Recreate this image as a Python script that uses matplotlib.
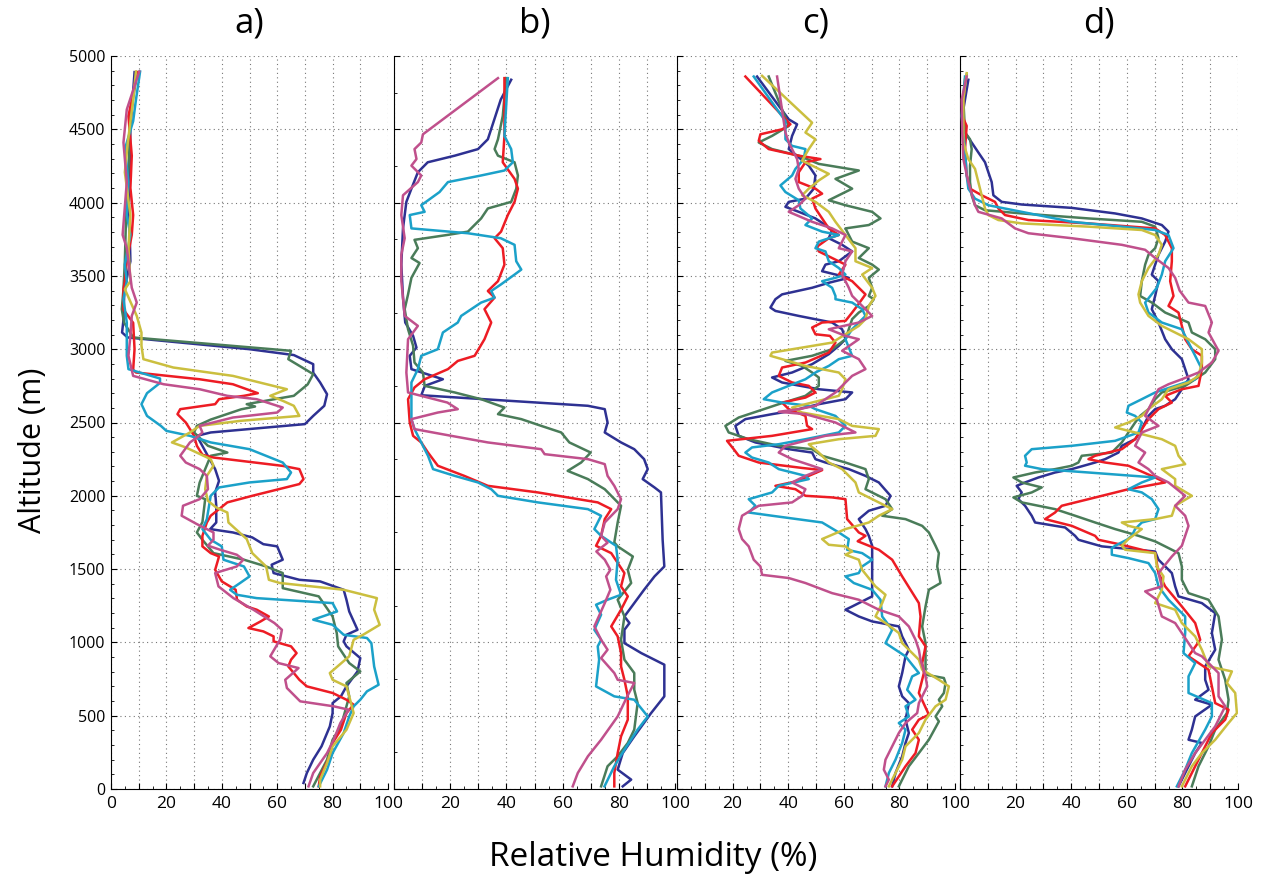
import numpy as np
import matplotlib.pyplot as plt
from matplotlib.ticker import MultipleLocator, FuncFormatter

plt.rcParams['font.family'] = ['Open Sans', 'DejaVu Sans']

# profiles as (altitude m, relative humidity %) pairs, top to bottom
# ---- a) ----
a_navy = [(4890, 8.5), (4500, 7), (4000, 6.5), (3600, 7), (3400, 4.8), (3200, 4.5), (3114, 4), (3080, 6),
          (3000, 50), (2960, 66), (2898, 73), (2840, 73), (2773, 75.5), (2693, 78), (2614, 77), (2545, 73),
          (2489, 70), (2432, 36), (2409, 31), (2340, 33), (2182, 37.6), (2102, 39), (2023, 37.6), (1932, 38),
          (1818, 38), (1773, 35.8), (1750, 44), (1716, 51), (1670, 55), (1655, 60), (1564, 62), (1530, 58),
          (1473, 58.7), (1427, 68), (1416, 75.5), (1359, 84), (1291, 85), (1211, 86), (1086, 89), (1052, 85),
          (1007, 84), (973, 85), (893, 90), (802, 89), (700, 85), (632, 83), (586, 80), (518, 80), (427, 79),
          (291, 76), (200, 73), (109, 70.7), (41, 69.5)]
a_green = [(4890, 9.5), (4600, 7), (4300, 6.5), (3950, 5.5), (3600, 5), (3409, 4.5), (3273, 3.9), (3182, 4.7),
           (3080, 8), (2989, 65), (2932, 64), (2830, 73), (2760, 71), (2682, 66), (2659, 59), (2625, 49),
           (2609, 52), (2590, 47), (2520, 36), (2477, 31), (2432, 30), (2341, 35), (2295, 42), (2273, 36),
           (2182, 34), (2090, 32), (2000, 31), (1977, 34), (1820, 33), (1750, 31), (1700, 33), (1609, 37),
           (1564, 48), (1518, 56), (1473, 62), (1370, 62), (1314, 75), (1177, 80), (1064, 81.5), (973, 82),
           (859, 86), (802, 90), (723, 85), (632, 86), (564, 85), (427, 83), (336, 80), (200, 78), (18, 73)]
a_red = [(4890, 9.5), (4590, 6.3), (4320, 7.5), (4100, 7), (3915, 8), (3780, 7.5), (3600, 5.7), (3464, 5),
         (3409, 4.5), (3270, 4.5), (3180, 8), (3000, 8.5), (2860, 8), (2841, 9), (2795, 32), (2761, 44),
         (2727, 49), (2700, 53), (2682, 48), (2659, 39), (2625, 37.6), (2591, 25), (2557, 24), (2500, 27),
         (2455, 28.5), (2409, 30), (2341, 31), (2280, 33), (2261, 37), (2204, 62), (2182, 68), (2114, 69.5),
         (2080, 68), (2000, 51), (1955, 42), (1909, 39), (1864, 36), (1818, 34.6), (1727, 33), (1655, 33),
         (1609, 36), (1586, 39), (1495, 37.6), (1416, 40), (1359, 45), (1291, 45.5), (1245, 49), (1223, 52.6),
         (1177, 57), (1143, 54), (1098, 49.6), (1075, 55), (1041, 58.7), (1007, 58.7), (973, 65), (927, 67),
         (882, 65), (836, 64), (791, 66), (745, 68), (700, 70.7), (655, 80), (609, 85), (575, 87.6), (518, 85),
         (404, 83), (314, 80), (223, 79), (86, 75.5), (18, 75)]
a_cyan = [(4894, 10.5), (4700, 9), (4556, 8), (4365, 5), (4140, 6.3), (3915, 5.7), (3780, 7), (3577, 5),
          (3464, 5.7), (3341, 4.5), (3182, 5.7), (2955, 5.7), (2864, 6.3), (2800, 17.7), (2770, 17.7),
          (2700, 13), (2625, 11), (2545, 13), (2477, 18), (2443, 20), (2409, 28.5), (2364, 36), (2318, 50),
          (2227, 62), (2159, 65), (2114, 63.5), (2091, 50), (2057, 39), (2000, 36), (1841, 34.6), (1773, 33),
          (1700, 36), (1655, 40), (1564, 40.6), (1518, 48), (1450, 50), (1405, 46.6), (1359, 43), (1325, 45.4),
          (1302, 52.6), (1268, 80), (1211, 81.6), (1155, 73), (1120, 80), (1052, 84), (1030, 92.4), (995, 94),
          (836, 95), (711, 96.6), (666, 92.4), (609, 90), (564, 87.6), (495, 86), (382, 84), (245, 80),
          (132, 78), (18, 75)]
a_yellow = [(4894, 9), (4700, 8), (4400, 6), (4207, 5), (3915, 7), (3690, 6.3), (3464, 7), (3409, 5),
            (3227, 9.3), (3114, 11), (3023, 11), (2932, 11.7), (2875, 22.5), (2818, 44), (2727, 63.5),
            (2682, 57.5), (2648, 62), (2614, 66), (2545, 68), (2511, 46.6), (2477, 32), (2432, 28.5),
            (2364, 22), (2330, 27), (2250, 36), (2205, 37), (2136, 34.6), (2045, 34), (1966, 35), (1920, 38),
            (1886, 42), (1818, 42.4), (1705, 49), (1609, 51), (1518, 56), (1427, 57), (1405, 61), (1359, 84),
            (1302, 96), (1223, 95), (1120, 97), (1052, 91), (1018, 87.6), (905, 86), (791, 79), (745, 80),
            (700, 85), (632, 86), (518, 87.6), (404, 85), (291, 80), (177, 78), (64, 75.5), (18, 75.5)]
a_pink = [(4894, 10.2), (4635, 5.7), (4410, 4.5), (4140, 5.7), (3780, 4.2), (3690, 5.7), (3419, 7.5),
          (3318, 9.3), (3227, 7.5), (3091, 7), (2955, 6.3), (2818, 8), (2761, 19), (2727, 32), (2682, 42),
          (2659, 52.6), (2602, 62), (2568, 60), (2534, 44), (2477, 32), (2432, 33), (2398, 31), (2364, 28.5),
          (2273, 25), (2227, 27), (2182, 32), (2136, 34.6), (2045, 35), (1977, 32), (1932, 26), (1864, 25.5),
          (1807, 31), (1750, 37), (1700, 37), (1660, 35), (1632, 39.4), (1598, 45.4), (1564, 47.8),
          (1518, 45.4), (1473, 37.6), (1382, 38.8), (1302, 44.2), (1223, 51.4), (1132, 59), (1086, 61.7),
          (1018, 61), (905, 57.5), (859, 60.5), (825, 67.7), (745, 62.9), (689, 63.5), (598, 68.3), (564, 80.4),
          (541, 85.8), (450, 82.8), (336, 80.4), (245, 78), (109, 73), (18, 71.3)]

# ---- b) ----
b_navy = [(4838, 41.7), (4703, 38), (4432, 33.4), (4365, 29.9), (4320, 21.6), (4275, 12), (4207, 8.5),
          (4095, 6.2), (4005, 4.4), (3824, 3.2), (3577, 2.6), (3351, 3.2), (3182, 4), (3091, 6.8), (3011, 8),
          (2955, 5.6), (2864, 6.2), (2795, 17.4), (2750, 11), (2686, 9.7), (2614, 69), (2591, 75), (2500, 76),
          (2432, 75), (2364, 80.8), (2318, 85.5), (2250, 89), (2182, 90.3), (2114, 88.5), (2057, 92.7),
          (2023, 95), (1700, 95.6), (1518, 96.2), (1450, 92.7), (1359, 89), (1268, 85.5), (1177, 82),
          (1132, 83.8), (1086, 82), (995, 82), (927, 88), (848, 96.2), (632, 96.2), (518, 91.5), (359, 85.5),
          (245, 81.4), (132, 79.6), (64, 84.4), (18, 81.4)]
b_green = [(4849, 39.9), (4590, 38.7), (4432, 37), (4365, 35.8), (4320, 37), (4275, 42.9), (4185, 44.1),
           (4095, 43.5), (4005, 41.7), (3960, 33.4), (3892, 31), (3802, 26.3), (3780, 19.2), (3746, 7.3),
           (3689, 8.5), (3622, 6.2), (3588, 9.1), (3487, 6.2), (3374, 5), (3273, 3.8), (3136, 5), (3023, 6.8),
           (2909, 7.3), (2841, 10.3), (2750, 10.9), (2705, 21.6), (2659, 31), (2602, 39.3), (2557, 37),
           (2523, 45.3), (2477, 52.4), (2432, 59.5), (2364, 62.4), (2295, 70), (2227, 66.6), (2170, 61.8),
           (2114, 69), (2045, 75), (1932, 80.8), (1818, 79.6), (1682, 78.4), (1655, 79.6), (1586, 85),
           (1495, 83.2), (1405, 84.4), (1291, 79.6), (1177, 82), (1018, 80.8), (882, 82), (791, 85.5),
           (677, 85.5), (586, 86.7), (405, 85.5), (314, 83.2), (223, 79.6), (155, 76), (18, 73.7)]
b_red = [(4849, 39.3), (4455, 39.3), (4275, 38.7), (4162, 42.9), (4095, 44.1), (4005, 42.9), (3915, 40.5),
         (3802, 38.1), (3757, 35.8), (3689, 38.7), (3577, 39.3), (3464, 37), (3397, 33.4), (3352, 35.8),
         (3273, 32.2), (3182, 34.6), (3068, 32.2), (2955, 28.7), (2920, 22.7), (2864, 19.2), (2795, 10.9),
         (2739, 7.3), (2659, 5), (2500, 5.6), (2409, 6.8), (2364, 9.7), (2295, 12.1), (2205, 15.6), (2136, 25),
         (2068, 33.4), (2023, 51.2), (1955, 72.5), (1909, 77.3), (1841, 75), (1727, 73.7), (1659, 71.9),
         (1609, 77.3), (1473, 82), (1382, 80.8), (1314, 83.2), (1223, 80.8), (1109, 77.3), (1041, 79.6),
         (927, 80.8), (836, 80.8), (745, 82), (632, 83.2), (473, 83.2), (359, 80.8), (245, 79.6), (109, 78.4),
         (18, 78.4)]
b_cyan = [(4849, 40.5), (4455, 39.3), (4365, 41.7), (4275, 42.3), (4219, 39.3), (4185, 31), (4140, 19.2),
          (4072, 16.2), (3982, 9.7), (3937, 10.9), (3915, 5.6), (3824, 6.2), (3791, 26.3), (3757, 38),
          (3712, 42.9), (3600, 43.5), (3543, 45.3), (3509, 42.9), (3441, 38), (3397, 34.6), (3352, 35.8),
          (3318, 31), (3227, 23.9), (3182, 22.7), (3114, 17.4), (3000, 15.6), (2955, 9.7), (2864, 8.5),
          (2773, 6.2), (2523, 6.2), (2455, 7.3), (2318, 10.9), (2273, 12.1), (2182, 13.9), (2136, 21.6),
          (2091, 29.9), (2045, 34.6), (2000, 37), (1955, 51.2), (1909, 69), (1864, 73.7), (1773, 71.3),
          (1727, 73.7), (1659, 79), (1564, 79.6), (1427, 79), (1325, 80.8), (1291, 76), (1257, 71.9),
          (1189, 73.7), (1086, 71.3), (1018, 73.7), (973, 72.5), (882, 73), (700, 71.9), (632, 78.4),
          (609, 85.5), (495, 90.3), (405, 86.7), (268, 82), (155, 78.4), (18, 74.9)]
b_pink = [(4849, 37), (4466, 10.3), (4410, 9.7), (4365, 7.3), (4297, 8), (4252, 6.2), (4185, 9.7), (4140, 8.5),
          (4050, 3.2), (3915, 2.6), (3757, 3.8), (3644, 2.6), (3464, 2.6), (3351, 3.2), (3227, 3.8),
          (3159, 8.5), (3068, 5), (2841, 4.4), (2705, 5), (2636, 19), (2591, 22.7), (2568, 15.6), (2523, 6.2),
          (2455, 7.3), (2409, 20.4), (2364, 33.4), (2318, 52.4), (2284, 53.6), (2250, 69), (2216, 75),
          (2136, 76), (2068, 78.4), (1977, 80.8), (1909, 79.6), (1818, 75), (1727, 73.7), (1680, 76),
          (1620, 72), (1564, 75), (1495, 77), (1450, 75.5), (1359, 77), (1268, 75), (1109, 71.3), (1018, 73.7),
          (950, 76), (893, 73.7), (791, 78.4), (745, 79.6), (723, 85.5), (632, 83), (495, 79.6), (336, 73.7),
          (223, 69), (109, 65.4), (18, 63.6)]

# ---- c) ----
c_navy = [(4860, 28.8), (4568, 40.2), (4534, 43.2), (4455, 41.4), (4365, 40.2), (4252, 47.4), (4185, 49.8),
          (4095, 49.2), (4027, 46.2), (4005, 40.2), (3971, 39), (3937, 43.8), (3892, 49.8), (3847, 53.4),
          (3813, 55.8), (3757, 54.6), (3712, 59.4), (3667, 63), (3600, 58.2), (3577, 53.4), (3532, 52.2),
          (3487, 61.8), (3453, 54.6), (3419, 48.6), (3374, 37.8), (3341, 35.4), (3284, 33.6), (3261, 35.4),
          (3227, 43.8), (3182, 55.8), (3136, 59.4), (3068, 60.6), (3023, 58.2), (2966, 54.6), (2898, 48.6),
          (2841, 41.4), (2807, 34.2), (2773, 37.8), (2727, 51), (2705, 63), (2659, 60.6), (2625, 51),
          (2580, 41.4), (2557, 34.2), (2523, 24.6), (2477, 21), (2409, 22.2), (2364, 28.2), (2318, 40.2),
          (2295, 48.6), (2250, 49.8), (2227, 53.4), (2182, 61.8), (2136, 67.8), (2091, 72.6), (2000, 76.8),
          (1932, 75), (1898, 69), (1841, 65.4), (1773, 67.8), (1727, 69), (1659, 70.2), (1495, 70.2),
          (1314, 70.2), (1268, 65.4), (1245, 63), (1223, 60.6), (1177, 65.4), (1143, 70.2), (1109, 79.8),
          (1041, 81), (950, 83.4), (905, 82.2), (791, 81), (700, 79.8), (632, 81), (586, 83.4), (473, 82.2),
          (382, 83.4), (314, 82.2), (223, 81), (109, 78.6), (18, 77.4)]
c_green = [(4860, 33), (4523, 40.2), (4455, 34.2), (4410, 29.4), (4365, 34.2), (4320, 43.8), (4264, 51),
           (4219, 65.4), (4162, 57), (4095, 63), (4016, 54.6), (3982, 60.6), (3937, 70.2), (3892, 73.2),
           (3847, 69), (3824, 60.6), (3734, 63), (3689, 69), (3622, 65.4), (3577, 70.2), (3543, 72.6),
           (3487, 69), (3419, 70.2), (3363, 69), (3341, 70.8), (3295, 69), (3250, 65.4), (3205, 63),
           (3068, 60.6), (3000, 55.8), (2955, 48.6), (2920, 39), (2886, 45), (2841, 48.6), (2807, 51),
           (2750, 51), (2682, 46.2), (2625, 36.6), (2534, 22.2), (2477, 17.4), (2432, 18.6), (2386, 25.8),
           (2341, 36.6), (2318, 48.6), (2273, 52.2), (2227, 60.6), (2182, 67.8), (2114, 69), (2045, 67.8),
           (1977, 75), (1909, 77.4), (1864, 73.8), (1841, 82.2), (1795, 88.2), (1750, 90.6), (1659, 93),
           (1609, 94.2), (1518, 93.6), (1405, 94.8), (1359, 90.6), (1245, 89.4), (1109, 88.2), (995, 89.4),
           (780, 89.4), (757, 96), (723, 96.6), (655, 96), (609, 94.2), (564, 95.4), (495, 93), (461, 94.2),
           (336, 90.6), (245, 87), (155, 83.4), (64, 81), (18, 79.8)]
c_red = [(4860, 24.6), (4534, 40.8), (4500, 37.8), (4466, 30), (4421, 29.4), (4365, 33), (4320, 43.8),
         (4297, 51.6), (4275, 46.2), (4207, 43.8), (4140, 43.8), (4095, 49.8), (4061, 52.2), (4027, 48.6),
         (3960, 49.8), (3892, 52.2), (3824, 54.6), (3779, 58.2), (3757, 54.6), (3700, 50.4), (3667, 51),
         (3622, 55.8), (3577, 60.6), (3509, 58.2), (3464, 63), (3374, 67.8), (3300, 65), (3250, 63),
         (3193, 60.6), (3182, 52.2), (3148, 48.6), (3102, 49.8), (3091, 55), (3045, 57), (2977, 54.6),
         (2909, 46.2), (2875, 37.8), (2818, 36.6), (2773, 41.4), (2750, 47.4), (2705, 49.8), (2670, 46.2),
         (2636, 37.8), (2591, 40.2), (2545, 46.2), (2477, 46.8), (2455, 48.6), (2409, 34.2), (2375, 18),
         (2318, 20.4), (2273, 22.2), (2227, 29.4), (2190, 45), (2175, 52.2), (2136, 47.4), (2102, 43.8),
         (2068, 35.4), (2045, 42.6), (2000, 46.2), (1989, 55.8), (1977, 60.6), (1841, 61.2), (1750, 65.4),
         (1727, 67.8), (1690, 65), (1632, 72.6), (1564, 77.4), (1450, 81), (1359, 84), (1268, 87),
         (1177, 87.6), (1041, 87), (973, 89.4), (859, 88.2), (791, 88.8), (655, 87), (507, 90.6), (473, 87),
         (405, 84.6), (336, 87), (245, 85.8), (155, 82.2), (86, 79.8), (18, 77.4)]
c_cyan = [(4860, 27.6), (4556, 39), (4432, 39), (4387, 41.4), (4365, 46.2), (4297, 45.6), (4230, 42.6),
          (4185, 41.4), (4117, 37.2), (4072, 39), (4016, 43.8), (3960, 44.4), (3892, 48.6), (3847, 46.2),
          (3802, 52.2), (3779, 58.2), (3734, 51), (3689, 49.8), (3667, 53.4), (3600, 54.6), (3554, 58.2),
          (3509, 60.6), (3487, 57), (3464, 52.2), (3419, 55.8), (3363, 57), (3341, 57), (3318, 63),
          (3273, 66.6), (3227, 67.8), (3136, 63), (3068, 60.6), (2955, 63), (2932, 58.2), (2886, 54.6),
          (2841, 49.8), (2795, 46.2), (2750, 40.2), (2705, 34.2), (2659, 31.2), (2636, 37.8), (2614, 47.4),
          (2591, 49.8), (2545, 57), (2477, 60.6), (2432, 58.2), (2386, 46.2), (2352, 36.6), (2330, 27),
          (2295, 24.6), (2261, 27), (2227, 33), (2182, 36.6), (2136, 46.2), (2114, 47.4), (2068, 36.6),
          (2023, 34.2), (1977, 25.8), (1932, 28.2), (1886, 25.8), (1864, 34.2), (1818, 52.2), (1750, 58.2),
          (1705, 61.8), (1632, 61.2), (1609, 66.6), (1564, 70.2), (1518, 66.6), (1473, 65.4), (1450, 60.6),
          (1405, 63.6), (1359, 70.2), (1291, 73.2), (1177, 73.8), (1086, 77.4), (995, 75), (905, 82.2),
          (791, 87), (768, 84.6), (677, 82.8), (609, 85.8), (564, 82.2), (495, 83.4), (450, 79.8), (405, 82.2),
          (314, 81), (200, 78.6), (109, 76.2), (18, 75)]
c_yellow = [(4865, 30.6), (4545, 48.6), (4478, 46.2), (4432, 49.8), (4365, 47.4), (4286, 45), (4196, 54.6),
            (4151, 51), (4095, 47.4), (4050, 45), (4005, 49.8), (3937, 54.6), (3869, 57), (3779, 60.6),
            (3689, 64.2), (3600, 64.2), (3554, 70.2), (3509, 66.6), (3419, 70.2), (3364, 71.4), (3295, 69),
            (3205, 67.8), (3159, 65.4), (3045, 55.8), (2977, 34.2), (2955, 33.6), (2886, 46.2), (2841, 58.2),
            (2795, 60.6), (2727, 59.4), (2682, 58.2), (2602, 41.4), (2568, 45), (2523, 58.2), (2477, 63),
            (2455, 72.6), (2409, 71.4), (2386, 58.2), (2352, 47.4), (2295, 51), (2227, 54.6), (2182, 59.4),
            (2091, 64.2), (2023, 65.4), (1932, 75), (1909, 77.4), (1864, 72.6), (1818, 69), (1773, 60.6),
            (1705, 52.2), (1666, 54.6), (1655, 60.6), (1620, 63), (1598, 60.6), (1564, 65.4), (1495, 66.6),
            (1382, 71.4), (1325, 75), (1268, 73.8), (1177, 71.4), (1132, 75), (1064, 79.8), (995, 81),
            (882, 87), (814, 88.2), (745, 94.2), (700, 97.8), (609, 96.6), (564, 93), (473, 89.4), (382, 87),
            (291, 82.2), (200, 81), (109, 78.6), (18, 76.2)]
c_pink = [(4860, 36), (4478, 39), (4410, 40.2), (4297, 43.2), (4230, 43.8), (4162, 42.6), (4095, 43.8),
          (4027, 46.2), (3982, 43.8), (3937, 40.2), (3869, 48.6), (3824, 55.8), (3779, 60.6), (3689, 58.2),
          (3667, 63), (3600, 60.6), (3509, 59.4), (3419, 61.8), (3364, 63), (3227, 70.2), (3182, 65.4),
          (3136, 54.6), (3091, 60.6), (3068, 65.4), (2989, 59.4), (2932, 65.4), (2864, 67.8), (2818, 63),
          (2705, 57), (2614, 49.8), (2591, 43.8), (2573, 36.6), (2557, 46.2), (2500, 57), (2432, 64.2),
          (2409, 53.4), (2364, 43.8), (2341, 39), (2295, 36.6), (2250, 41.4), (2205, 48.6), (2182, 52.2),
          (2136, 46.2), (2091, 41.4), (2045, 46.2), (2000, 45), (1955, 41.4), (1932, 29.4), (1864, 23.4),
          (1773, 22.2), (1705, 23.4), (1655, 25.8), (1564, 27.6), (1518, 30), (1461, 30.6), (1439, 40.2),
          (1405, 46.2), (1336, 55.8), (1291, 65.4), (1223, 72.6), (1177, 79.8), (1109, 83.4), (1018, 85.8),
          (950, 87), (882, 87.6), (768, 89.4), (700, 90), (586, 87), (518, 86.4), (450, 82.2), (382, 79.8),
          (291, 77.4), (200, 75), (132, 74.4), (64, 76.2), (18, 75)]

# ---- d) ----
d_navy = [(4838, 3), (4703, 1.8), (4590, 0.8), (4478, 1.8), (4410, 4.2), (4342, 6.6), (4275, 9), (4207, 10.2),
          (4140, 11.4), (4050, 12), (4005, 15), (3987, 22.2), (3964, 40.2), (3926, 55.8), (3892, 65.4),
          (3847, 72.6), (3802, 75), (3734, 73.8), (3644, 71.4), (3509, 69), (3464, 71.4), (3364, 70.2),
          (3273, 69), (3182, 71.4), (3068, 73.8), (3000, 76.2), (2932, 79.8), (2864, 81), (2795, 82.2),
          (2727, 79.8), (2659, 77.4), (2614, 73.8), (2591, 70.2), (2545, 67.8), (2455, 65.4), (2386, 63),
          (2341, 58.2), (2295, 57), (2250, 52.2), (2227, 48.6), (2182, 40.2), (2159, 34.2), (2125, 28.2),
          (2091, 23.4), (2068, 20.4), (2023, 22.2), (1977, 21), (1932, 23.4), (1864, 25.8), (1818, 27),
          (1784, 37.8), (1727, 41.4), (1700, 42.6), (1655, 51), (1620, 70.2), (1564, 71.4), (1473, 76.2),
          (1382, 77.4), (1314, 78.6), (1268, 87), (1200, 91.8), (1064, 90.6), (950, 91.8), (836, 88.2),
          (745, 88.2), (677, 89.4), (609, 84.6), (575, 90.6), (495, 84.6), (405, 83.4), (336, 82.2), (314, 87),
          (245, 84.6), (155, 82.2), (64, 79.8), (18, 78.6)]
d_green = [(4872, 2.4), (4703, 1.2), (4478, 1.8), (4432, 3.6), (4365, 4.2), (4252, 3.6), (4140, 3.6),
           (4050, 4.2), (3982, 5.4), (3948, 9), (3926, 22.2), (3892, 46.2), (3869, 65.4), (3836, 70.2),
           (3757, 71.4), (3689, 70.2), (3644, 67.8), (3577, 66.6), (3464, 65.4), (3363, 64.8), (3318, 69),
           (3250, 73.8), (3182, 82.2), (3114, 83.4), (3068, 88.2), (3000, 91.8), (2932, 91.8), (2841, 88.2),
           (2795, 84.6), (2750, 81), (2705, 72.6), (2659, 70.2), (2591, 67.8), (2545, 64.8), (2500, 63),
           (2432, 60.6), (2364, 58.2), (2295, 54.6), (2273, 43.8), (2227, 42.6), (2205, 40.2), (2182, 34.2),
           (2159, 27), (2125, 19.2), (2091, 22.2), (2057, 29.4), (2023, 25.8), (1989, 19.2), (1955, 22.2),
           (1909, 34.2), (1864, 41.4), (1818, 48.6), (1773, 55.8), (1727, 64.2), (1689, 70.2), (1655, 73.8),
           (1609, 78.6), (1518, 79.8), (1427, 79.8), (1336, 82.2), (1291, 89.4), (1177, 93), (1018, 94.2),
           (882, 93), (745, 95.4), (609, 96.6), (518, 96), (405, 91.8), (291, 89.4), (155, 85.8), (18, 83.4)]
d_red = [(4838, 1.8), (4590, 0.8), (4523, 2.4), (4365, 1.8), (4185, 2.4), (4095, 3.6), (4050, 7.8),
         (4005, 12.6), (3960, 13.8), (3915, 16.2), (3881, 24.6), (3858, 46.2), (3824, 70.2), (3779, 73.8),
         (3689, 76.2), (3600, 76.2), (3464, 75.6), (3363, 76.8), (3295, 75), (3250, 78.6), (3159, 79.8),
         (3068, 81), (3000, 83.4), (2955, 87), (2864, 87), (2750, 85.8), (2727, 79.8), (2682, 73.8),
         (2636, 76.2), (2591, 71.4), (2523, 67.8), (2455, 65.4), (2386, 63), (2318, 58.2), (2273, 48.6),
         (2250, 46.2), (2227, 52.2), (2205, 60.6), (2125, 70.2), (2091, 73.8), (2045, 60.6), (1977, 46.2),
         (1932, 36.6), (1886, 34.2), (1841, 30.6), (1795, 40.2), (1727, 48.6), (1700, 49.8), (1666, 58.2),
         (1609, 70.2), (1473, 71.4), (1382, 73.8), (1245, 79.8), (1132, 84.6), (1018, 86.4), (905, 82.2),
         (814, 89.4), (700, 90.6), (586, 91.8), (541, 96.6), (473, 95.4), (382, 90.6), (291, 88.2),
         (155, 84.6), (18, 81)]
d_cyan = [(4860, 1.8), (4590, 0.6), (4365, 1.8), (4185, 2.4), (4095, 3), (4027, 5.4), (3982, 10.2),
          (3937, 22.2), (3869, 40.2), (3836, 58.2), (3813, 70.2), (3779, 75), (3689, 76.8), (3600, 73.8),
          (3509, 72.6), (3419, 70.8), (3318, 66.6), (3250, 67.8), (3182, 72.6), (3136, 79.8), (3045, 82.2),
          (2955, 84.6), (2864, 87), (2795, 84.6), (2750, 77.4), (2705, 70.2), (2659, 65.4), (2614, 60.6),
          (2568, 60), (2545, 63), (2500, 65.4), (2432, 64.2), (2375, 55.8), (2341, 40.2), (2318, 25.8),
          (2273, 23.4), (2227, 24), (2205, 23.4), (2182, 29.4), (2159, 46.2), (2125, 70.2), (2091, 65.4),
          (2045, 60.6), (2023, 65.4), (1977, 69), (1909, 71.4), (1841, 70.2), (1818, 65.4), (1773, 63),
          (1727, 61.8), (1700, 60), (1659, 55.8), (1643, 54.6), (1598, 54.6), (1575, 60.6), (1541, 67.8),
          (1473, 70.2), (1382, 71.4), (1291, 75), (1177, 81), (1064, 81), (927, 80.4), (859, 84.6), (768, 82.2),
          (655, 82.2), (586, 90.6), (495, 90.6), (405, 88.2), (245, 83.4), (132, 81), (18, 78)]
d_yellow = [(4883, 2.4), (4703, 1.2), (4410, 1.2), (4297, 3), (4230, 5.4), (4140, 6.6), (4050, 7.8), (3960, 9),
            (3915, 10.2), (3881, 13.8), (3858, 22.2), (3836, 46.2), (3813, 65.4), (3779, 70.2), (3712, 72.6),
            (3644, 71.4), (3554, 67.8), (3464, 65.4), (3374, 64.2), (3318, 64.8), (3227, 67.8), (3159, 72.6),
            (3068, 82.2), (3000, 87), (2909, 87), (2818, 85.8), (2773, 82.2), (2727, 75), (2659, 72.6),
            (2591, 67.8), (2545, 65.4), (2500, 60.6), (2466, 55.8), (2432, 63), (2386, 72.6), (2341, 77.4),
            (2273, 78.6), (2216, 81), (2182, 72.6), (2114, 77.4), (2068, 77.4), (2000, 83.4), (1932, 77.4),
            (1864, 76.2), (1841, 70.2), (1818, 58.2), (1795, 60.6), (1773, 65.4), (1705, 60.6), (1659, 58.2),
            (1632, 59.4), (1609, 70.2), (1518, 70.8), (1450, 73.2), (1359, 72.6), (1268, 70.2), (1223, 77.4),
            (1132, 79.8), (1041, 84.6), (950, 87), (836, 89.4), (802, 97.8), (723, 96), (655, 99), (518, 99.6),
            (450, 96.6), (336, 91.8), (245, 87), (155, 83.4), (18, 79.8)]
d_pink = [(4860, 2.4), (4703, 0.6), (4478, 0.8), (4297, 1.2), (4140, 3), (3982, 5.4), (3937, 6.6), (3892, 15),
          (3824, 19.8), (3791, 24.6), (3757, 40.2), (3712, 58.2), (3678, 66.6), (3622, 70.2), (3554, 75),
          (3487, 77.4), (3400, 79), (3318, 82.2), (3295, 88.2), (3182, 90.6), (3114, 89.4), (2989, 93),
          (2909, 90.6), (2841, 85.8), (2795, 79.8), (2761, 75), (2727, 71.4), (2636, 69), (2545, 66.6),
          (2477, 71.4), (2432, 65.4), (2341, 63), (2295, 66.6), (2227, 64.2), (2182, 67.8), (2136, 70.2),
          (2091, 75), (2000, 81), (1932, 77.4), (1864, 81), (1795, 82.2), (1727, 81), (1659, 79.8), (1586, 76.2),
          (1473, 71.4), (1382, 72.6), (1348, 66.6), (1291, 70.8), (1177, 72.6), (1132, 77.4), (995, 82.2),
          (927, 84.6), (905, 87), (791, 93), (632, 93), (564, 95.4), (427, 91.8), (336, 88.2), (245, 84.6),
          (132, 81), (18, 78.6)]

navy, green, red, cyan, yellow, pink = '#2e3192', '#4a7c59', '#ed1c24', '#1ba1c9', '#cbbf3f', '#c0508c'

panel_titles = ['a)', 'b)', 'c)', 'd)']
panel_lines = [
    [(a_navy, navy), (a_green, green), (a_red, red), (a_cyan, cyan), (a_yellow, yellow), (a_pink, pink)],
    [(b_navy, navy), (b_green, green), (b_red, red), (b_cyan, cyan), (b_pink, pink)],
    [(c_navy, navy), (c_green, green), (c_red, red), (c_cyan, cyan), (c_yellow, yellow), (c_pink, pink)],
    [(d_navy, navy), (d_green, green), (d_red, red), (d_cyan, cyan), (d_yellow, yellow), (d_pink, pink)],
]

# axes boxes in pixels: left, right
W, H = 1261, 881
boxes = [(111, 388), (394, 675), (677, 955), (960, 1238)]
top_px, bot_px = 56, 789

fig = plt.figure(figsize=(W / 100, H / 100), dpi=100)

for i, (x0, x1) in enumerate(boxes):
    ax = fig.add_axes([x0 / W, (H - bot_px) / H, (x1 - x0) / W, (bot_px - top_px) / H])
    for pts, col in panel_lines[i]:
        arr = np.array(pts, dtype=float)
        ax.plot(arr[:, 1], arr[:, 0], color=col, lw=1.8, solid_joinstyle='round', zorder=3)

    ax.set_xlim(0, 100)
    ax.set_ylim(0, 5000)
    ax.spines['top'].set_visible(False)
    ax.spines['right'].set_visible(False)
    for s in ('left', 'bottom'):
        ax.spines[s].set_linewidth(0.8)

    ax.xaxis.set_major_locator(MultipleLocator(10))
    ax.xaxis.set_minor_locator(MultipleLocator(5))
    first = i == 0
    ax.xaxis.set_major_formatter(FuncFormatter(
        lambda v, p, first=first: '%d' % v if (round(v) % 20 == 0 and (v > 0 or first)) else ''))
    ax.yaxis.set_major_locator(MultipleLocator(500))
    ax.yaxis.set_minor_locator(MultipleLocator(250 if i == 1 else 100))
    if not first:
        ax.set_yticklabels([])
    ax.tick_params(direction='in', which='major', length=4, width=0.8, labelsize=12.5, pad=5)
    ax.tick_params(direction='in', which='minor', length=2, width=0.6)
    ax.tick_params(axis='y', labelsize=11.5, pad=4)
    ax.grid(True, which='major', linestyle=(0, (1, 3)), color='#777777', lw=0.8)
    ax.set_axisbelow(True)

    fig.text((x0 + x1) / 2 / W, 1 - 24 / H, panel_titles[i], ha='center', va='center', fontsize=25)

fig.text(653 / W, 1 - 858 / H, 'Relative Humidity (%)', ha='center', va='center', fontsize=24)
fig.text(33 / W, 1 - 450 / H, 'Altitude (m)', ha='center', va='center', rotation=90, fontsize=22)

fig.savefig('out.png', dpi=100)
